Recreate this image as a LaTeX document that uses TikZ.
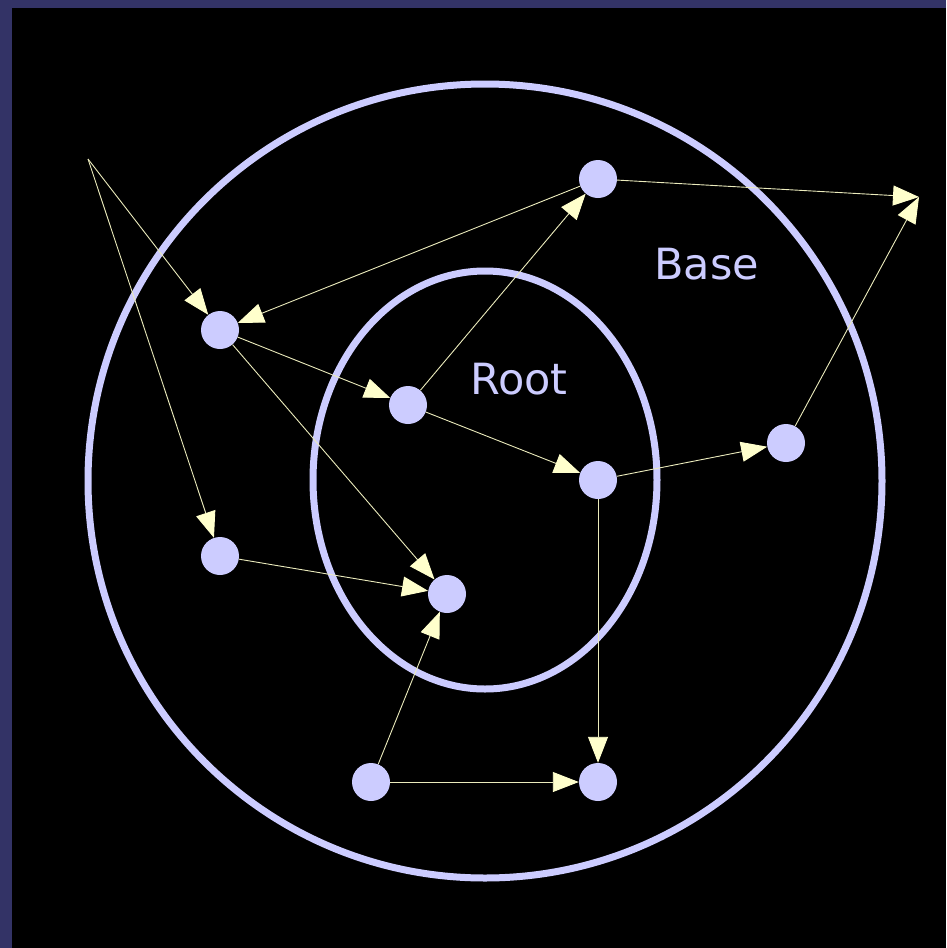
\documentclass[tikz,border=0pt]{standalone}
\usepackage{fontspec}
\setmainfont{DejaVu Sans}
\usetikzlibrary{arrows.meta}
\definecolor{frame}{HTML}{333366}
\definecolor{lav}{HTML}{CCCCFF}
\definecolor{pale}{HTML}{FFFFCC}
\tikzset{
  dot/.style={circle, fill=lav, draw=none, minimum size=38pt, inner sep=0pt},
  ring/.style={draw=lav, line width=7pt},
  link/.style={draw=pale!92!black, line width=0.9pt, -{Triangle[length=26pt,width=20pt,fill=pale,color=pale]}},
  lbl/.style={text=lav, font=\fontsize{43}{50}\selectfont, inner sep=0pt, anchor=base west}
}
\begin{document}
\begin{tikzpicture}[x=1pt,y=-1pt]
\useasboundingbox (0,0) rectangle (946,948);
\fill[frame] (0,0) rectangle (946,948);
\fill[black] (12,8) rectangle (946,948);
\draw[ring] (485,481) circle [radius=397];
\draw[ring] (485,480) ellipse [x radius=172, y radius=209];
\node[lbl] (base) at (654,279) {Base};
\node[lbl] (root) at (470,394) {Root};
\node[dot] (A) at (220,330) {};
\node[dot] (B) at (598,179) {};
\node[dot] (C) at (408,405) {};
\node[dot] (D) at (598,480) {};
\node[dot] (E) at (786,443) {};
\node[dot] (F) at (220,556) {};
\node[dot] (G) at (447,594) {};
\node[dot] (H) at (371,782) {};
\node[dot] (I) at (598,782) {};
\coordinate (S) at (88,159);
\coordinate (T) at (919,197);
\draw[link] (S) -- (A);
\draw[link] (S) -- (F);
\draw[link] (B) -- (A);
\draw[link] (B) -- (T);
\draw[link] (A) -- (C);
\draw[link] (A) -- (G);
\draw[link] (C) -- (B);
\draw[link] (C) -- (D);
\draw[link] (D) -- (E);
\draw[link] (D) -- (I);
\draw[link] (E) -- (T);
\draw[link] (F) -- (G);
\draw[link] (H) -- (G);
\draw[link] (H) -- (I);
\end{tikzpicture}
\end{document}
